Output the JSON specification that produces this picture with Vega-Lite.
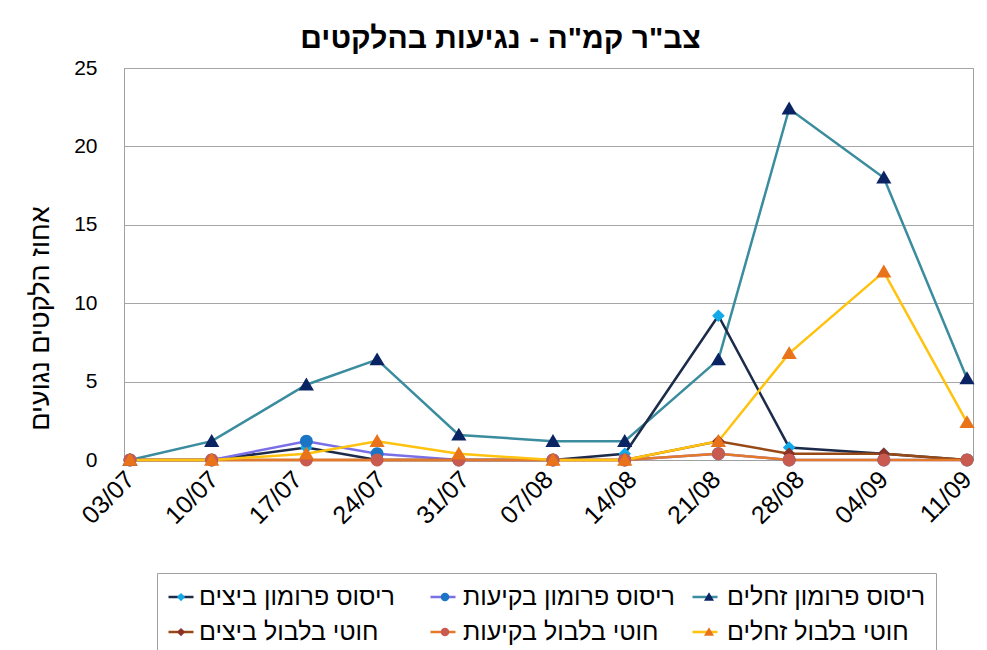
{
  "$schema": "https://vega.github.io/schema/vega-lite/v6.json",
  "width": 849,
  "height": 392,
  "autosize": {"type": "none"},
  "padding": {"left": 124, "top": 68, "right": 14, "bottom": 190},
  "background": "white",
  "title": {
    "text": "צב\"ר קמ\"ה - נגיעות בהלקטים",
    "font": "Liberation Sans",
    "fontSize": 30,
    "fontWeight": "bold",
    "color": "black",
    "anchor": "middle",
    "frame": "group",
    "dx": -48,
    "dy": 36,
    "offset": 15,
    "baseline": "alphabetic"
  },
  "data": {
    "values": [
      {"series": "ריסוס פרומון זחלים", "date": "2013-07-03T00:00:00", "value": 0},
      {"series": "ריסוס פרומון זחלים", "date": "2013-07-09T20:00:00", "value": 1.2},
      {"series": "ריסוס פרומון זחלים", "date": "2013-07-17T18:00:00", "value": 4.8},
      {"series": "ריסוס פרומון זחלים", "date": "2013-07-23T16:00:00", "value": 6.4},
      {"series": "ריסוס פרומון זחלים", "date": "2013-07-30T12:00:00", "value": 1.6},
      {"series": "ריסוס פרומון זחלים", "date": "2013-08-07T09:00:00", "value": 1.2},
      {"series": "ריסוס פרומון זחלים", "date": "2013-08-13T09:00:00", "value": 1.2},
      {"series": "ריסוס פרומון זחלים", "date": "2013-08-21T05:00:00", "value": 6.4},
      {"series": "ריסוס פרומון זחלים", "date": "2013-08-27T03:00:00", "value": 22.4},
      {"series": "ריסוס פרומון זחלים", "date": "2013-09-04T01:00:00", "value": 18.0},
      {"series": "ריסוס פרומון זחלים", "date": "2013-09-11T00:00:00", "value": 5.2},
      {"series": "ריסוס פרומון ביצים", "date": "2013-07-03T00:00:00", "value": 0},
      {"series": "ריסוס פרומון ביצים", "date": "2013-07-09T20:00:00", "value": 0},
      {"series": "ריסוס פרומון ביצים", "date": "2013-07-17T18:00:00", "value": 0.8},
      {"series": "ריסוס פרומון ביצים", "date": "2013-07-23T16:00:00", "value": 0},
      {"series": "ריסוס פרומון ביצים", "date": "2013-07-30T12:00:00", "value": 0},
      {"series": "ריסוס פרומון ביצים", "date": "2013-08-07T09:00:00", "value": 0},
      {"series": "ריסוס פרומון ביצים", "date": "2013-08-13T09:00:00", "value": 0.4},
      {"series": "ריסוס פרומון ביצים", "date": "2013-08-21T05:00:00", "value": 9.2},
      {"series": "ריסוס פרומון ביצים", "date": "2013-08-27T03:00:00", "value": 0.8},
      {"series": "ריסוס פרומון ביצים", "date": "2013-09-04T01:00:00", "value": 0.4},
      {"series": "ריסוס פרומון ביצים", "date": "2013-09-11T00:00:00", "value": 0},
      {"series": "ריסוס פרומון בקיעות", "date": "2013-07-03T00:00:00", "value": 0},
      {"series": "ריסוס פרומון בקיעות", "date": "2013-07-09T20:00:00", "value": 0},
      {"series": "ריסוס פרומון בקיעות", "date": "2013-07-17T18:00:00", "value": 1.2},
      {"series": "ריסוס פרומון בקיעות", "date": "2013-07-23T16:00:00", "value": 0.4},
      {"series": "ריסוס פרומון בקיעות", "date": "2013-07-30T12:00:00", "value": 0},
      {"series": "ריסוס פרומון בקיעות", "date": "2013-08-07T09:00:00", "value": 0},
      {"series": "ריסוס פרומון בקיעות", "date": "2013-08-13T09:00:00", "value": 0},
      {"series": "ריסוס פרומון בקיעות", "date": "2013-08-21T05:00:00", "value": 0.4},
      {"series": "ריסוס פרומון בקיעות", "date": "2013-08-27T03:00:00", "value": 0},
      {"series": "ריסוס פרומון בקיעות", "date": "2013-09-04T01:00:00", "value": 0},
      {"series": "ריסוס פרומון בקיעות", "date": "2013-09-11T00:00:00", "value": 0},
      {"series": "חוטי בלבול ביצים", "date": "2013-07-03T00:00:00", "value": 0},
      {"series": "חוטי בלבול ביצים", "date": "2013-07-09T20:00:00", "value": 0},
      {"series": "חוטי בלבול ביצים", "date": "2013-07-17T18:00:00", "value": 0},
      {"series": "חוטי בלבול ביצים", "date": "2013-07-23T16:00:00", "value": 0},
      {"series": "חוטי בלבול ביצים", "date": "2013-07-30T12:00:00", "value": 0},
      {"series": "חוטי בלבול ביצים", "date": "2013-08-07T09:00:00", "value": 0},
      {"series": "חוטי בלבול ביצים", "date": "2013-08-13T09:00:00", "value": 0},
      {"series": "חוטי בלבול ביצים", "date": "2013-08-21T05:00:00", "value": 1.2},
      {"series": "חוטי בלבול ביצים", "date": "2013-08-27T03:00:00", "value": 0.4},
      {"series": "חוטי בלבול ביצים", "date": "2013-09-04T01:00:00", "value": 0.4},
      {"series": "חוטי בלבול ביצים", "date": "2013-09-11T00:00:00", "value": 0},
      {"series": "חוטי בלבול בקיעות", "date": "2013-07-03T00:00:00", "value": 0},
      {"series": "חוטי בלבול בקיעות", "date": "2013-07-09T20:00:00", "value": 0},
      {"series": "חוטי בלבול בקיעות", "date": "2013-07-17T18:00:00", "value": 0},
      {"series": "חוטי בלבול בקיעות", "date": "2013-07-23T16:00:00", "value": 0},
      {"series": "חוטי בלבול בקיעות", "date": "2013-07-30T12:00:00", "value": 0},
      {"series": "חוטי בלבול בקיעות", "date": "2013-08-07T09:00:00", "value": 0},
      {"series": "חוטי בלבול בקיעות", "date": "2013-08-13T09:00:00", "value": 0},
      {"series": "חוטי בלבול בקיעות", "date": "2013-08-21T05:00:00", "value": 0.4},
      {"series": "חוטי בלבול בקיעות", "date": "2013-08-27T03:00:00", "value": 0},
      {"series": "חוטי בלבול בקיעות", "date": "2013-09-04T01:00:00", "value": 0},
      {"series": "חוטי בלבול בקיעות", "date": "2013-09-11T00:00:00", "value": 0},
      {"series": "חוטי בלבול זחלים", "date": "2013-07-03T00:00:00", "value": 0},
      {"series": "חוטי בלבול זחלים", "date": "2013-07-09T20:00:00", "value": 0},
      {"series": "חוטי בלבול זחלים", "date": "2013-07-17T18:00:00", "value": 0.4},
      {"series": "חוטי בלבול זחלים", "date": "2013-07-23T16:00:00", "value": 1.2},
      {"series": "חוטי בלבול זחלים", "date": "2013-07-30T12:00:00", "value": 0.4},
      {"series": "חוטי בלבול זחלים", "date": "2013-08-07T09:00:00", "value": 0},
      {"series": "חוטי בלבול זחלים", "date": "2013-08-13T09:00:00", "value": 0},
      {"series": "חוטי בלבול זחלים", "date": "2013-08-21T05:00:00", "value": 1.2},
      {"series": "חוטי בלבול זחלים", "date": "2013-08-27T03:00:00", "value": 6.8},
      {"series": "חוטי בלבול זחלים", "date": "2013-09-04T01:00:00", "value": 12.0},
      {"series": "חוטי בלבול זחלים", "date": "2013-09-11T00:00:00", "value": 2.4}
    ]
  },
  "encoding": {
    "x": {
      "field": "date",
      "type": "temporal",
      "scale": {"domain": ["2013-07-02T12:00:00", "2013-09-11T12:00:00"]},
      "axis": {
        "title": null,
        "values": [
          {"year": 2013, "month": 7, "date": 3},
          {"year": 2013, "month": 7, "date": 10},
          {"year": 2013, "month": 7, "date": 17},
          {"year": 2013, "month": 7, "date": 24},
          {"year": 2013, "month": 7, "date": 31},
          {"year": 2013, "month": 8, "date": 7},
          {"year": 2013, "month": 8, "date": 14},
          {"year": 2013, "month": 8, "date": 21},
          {"year": 2013, "month": 8, "date": 28},
          {"year": 2013, "month": 9, "date": 4},
          {"year": 2013, "month": 9, "date": 11}
        ],
        "format": "%d/%m",
        "labelAngle": -45,
        "labelAlign": "right",
        "labelBaseline": "middle",
        "labelPadding": 15,
        "labelFontSize": 25,
        "labelFlush": false,
        "labelOverlap": false,
        "labelBound": false,
        "grid": false,
        "ticks": false,
        "tickSize": 0,
        "domainColor": "#A0A0A0"
      }
    },
    "y": {
      "field": "value",
      "type": "quantitative",
      "scale": {"domain": [0, 25]},
      "axis": {
        "values": [0, 5, 10, 15, 20, 25],
        "title": "אחוז הלקטים נגועים",
        "titleFontSize": 27,
        "titleFontWeight": "normal",
        "titleColor": "black",
        "titleX": -84,
        "titleY": 250,
        "titleAlign": "center",
        "titleBaseline": "middle",
        "titleAngle": -90,
        "labelFontSize": 21,
        "labelPadding": 27,
        "ticks": false,
        "tickSize": 0,
        "grid": true,
        "gridColor": "#A6A6A6",
        "domainColor": "#A0A0A0"
      }
    }
  },
  "layer": [
    {
      "mark": {"type": "line", "strokeWidth": 2.5},
      "encoding": {
        "stroke": {
          "field": "series",
          "type": "nominal",
          "sort": ["ריסוס פרומון ביצים", "ריסוס פרומון בקיעות", "ריסוס פרומון זחלים", "חוטי בלבול ביצים", "חוטי בלבול בקיעות", "חוטי בלבול זחלים"],
          "scale": {
            "range": ["#1C2B4A", "#7B6FE8", "#3A8C9E", "#974A16", "#E4792A", "#FFC20E"]
          },
          "legend": {
            "symbolType": "M-1,0H1",
            "orient": "none",
            "legendX": 33,
            "legendY": 505,
            "direction": "horizontal",
            "columns": 3,
            "gridAlign": "all",
            "title": null,
            "labelExpr": "''",
            "labelFontSize": 25,
            "labelOffset": 0,
            "symbolSize": 625,
            "symbolStrokeWidth": 2.5,
            "padding": 10,
            "columnPadding": 226,
            "rowPadding": 8,
            "zindex": 1
          }
        }
      }
    },
    {
      "mark": {"type": "point", "filled": true, "size": 1444, "strokeWidth": 2.5, "stroke": "transparent", "opacity": 1},
      "encoding": {
        "fill": {
          "field": "series",
          "type": "nominal",
          "scale": {
            "domain": ["ריסוס פרומון ביצים", "ריסוס פרומון בקיעות", "ריסוס פרומון זחלים", "חוטי בלבול ביצים", "חוטי בלבול בקיעות", "חוטי בלבול זחלים"],
            "range": ["#12A9E8", "#1A75C4", "#0A2463", "#8B3226", "#C85A50", "#E8731A"]
          },
          "legend": {
            "orient": "none",
            "legendX": 33,
            "legendY": 505,
            "direction": "horizontal",
            "columns": 3,
            "gridAlign": "all",
            "title": null,
            "labelFontSize": 25,
            "labelFont": "Liberation Sans",
            "labelColor": "black",
            "labelLimit": 400,
            "labelOffset": 4,
            "symbolSize": 625,
            "symbolStrokeWidth": 2.5,
            "symbolStrokeColor": "transparent",
            "strokeColor": "#A0A0A0",
            "padding": 10,
            "columnPadding": 20,
            "rowPadding": 8,
            "zindex": 2
          }
        },
        "shape": {
          "field": "series",
          "type": "nominal",
          "scale": {
            "domain": ["ריסוס פרומון ביצים", "ריסוס פרומון בקיעות", "ריסוס פרומון זחלים", "חוטי בלבול ביצים", "חוטי בלבול בקיעות", "חוטי בלבול זחלים"],
            "range": [
              "M0,-0.33L0.33,0L0,0.33L-0.33,0Z",
              "M0.34,0A0.34,0.34,0,1,1,-0.34,0A0.34,0.34,0,1,1,0.34,0Z",
              "M0,-0.38L0.4,0.3L-0.4,0.3Z",
              "M0,-0.33L0.33,0L0,0.33L-0.33,0Z",
              "M0.34,0A0.34,0.34,0,1,1,-0.34,0A0.34,0.34,0,1,1,0.34,0Z",
              "M0,-0.38L0.4,0.3L-0.4,0.3Z"
            ]
          }
        }
      }
    }
  ],
  "config": {
    "font": "Liberation Sans",
    "view": {"stroke": "#A0A0A0", "strokeWidth": 1},
    "axis": {"labelColor": "black", "labelFont": "Liberation Sans", "titleFont": "Liberation Sans"}
  }
}
